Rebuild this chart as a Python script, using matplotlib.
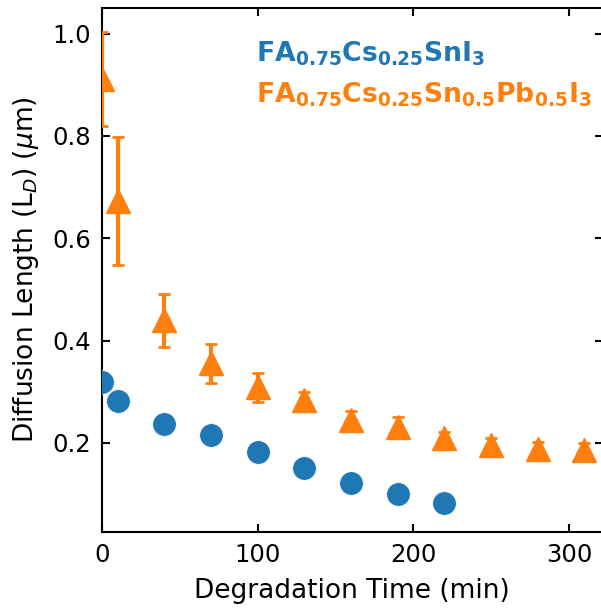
import matplotlib
matplotlib.use("Agg")
import matplotlib.pyplot as plt

# Data
t_sn = [0, 10, 40, 70, 100, 130, 160, 190, 220]
ld_sn = [0.320, 0.282, 0.238, 0.216, 0.183, 0.152, 0.121, 0.100, 0.082]

t_snpb = [0, 10, 40, 70, 100, 130, 160, 190, 220, 250, 280, 310]
ld_snpb = [0.911, 0.673, 0.440, 0.356, 0.309, 0.283, 0.245, 0.232, 0.210, 0.196, 0.188, 0.186]
err_snpb = [0.092, 0.125, 0.052, 0.038, 0.028, 0.017, 0.018, 0.018, 0.012, 0.014, 0.013, 0.014]

label_sn = r"$\mathbf{FA_{0.75}Cs_{0.25}SnI_{3}}$"
label_snpb = r"$\mathbf{FA_{0.75}Cs_{0.25}Sn_{0.5}Pb_{0.5}I_{3}}$"

blue = "#1f77b4"
orange = "#ff7f0e"

plt.rcParams['mathtext.fontset'] = 'dejavusans'
fig = plt.figure(figsize=(6.01, 6.08), dpi=100)
ax = fig.add_axes([102/601, 76/608, 500.5/601, 524/608])

ax.plot(t_sn, ld_sn, 'o', color=blue, ms=17, mec='white', mew=0.5, zorder=3)
ax.errorbar(t_snpb, ld_snpb, yerr=err_snpb, fmt='^', color=orange, ms=17,
            elinewidth=3, capsize=4.5, capthick=2, mec=orange, zorder=3)

ax.set_xlim(0, 321.6)
ax.set_ylim(0.026, 1.05)
ax.set_xticks([0, 100, 200, 300])
ax.set_yticks([0.2, 0.4, 0.6, 0.8, 1.0])
ax.tick_params(direction='in', top=True, right=True, length=6, width=1.5,
               labelsize=17.5, pad=8)
for s in ax.spines.values():
    s.set_linewidth(1.5)

ax.set_xlabel("Degradation Time (min)", fontsize=19, labelpad=8)
ax.set_ylabel(r"Diffusion Length (L$_D$) ($\mu$m)", fontsize=19, labelpad=8)

ax.text(256/601, 1 - 62/608, label_sn, transform=fig.transFigure, color=blue,
        fontsize=19.2, ha='left', va='baseline')
ax.text(256/601, 1 - 102.5/608, label_snpb, transform=fig.transFigure, color=orange,
        fontsize=19.2, ha='left', va='baseline')

fig.savefig("out.png", dpi=100)
